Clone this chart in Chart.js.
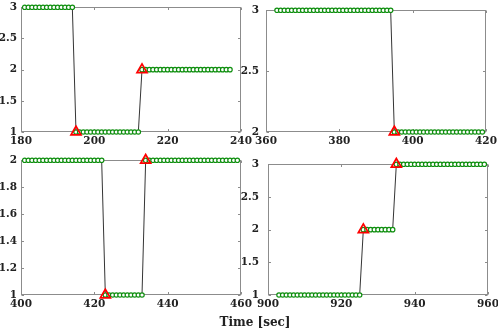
<!DOCTYPE html>
<html>
<head>
<meta charset="utf-8">
<title>Step changes</title>
<script src="https://cdn.jsdelivr.net/npm/chart.js"></script>
<style>
  body { margin: 0; width: 498px; height: 335px; background: #fff; position: relative; overflow: hidden; }
  canvas { position: absolute; }
  #xlabel { position: absolute; left: 255px; top: 316px; transform: translateX(-50%);
            font: bold 12px "DejaVu Serif"; line-height: 12px; color: #222; white-space: nowrap; }
</style>
</head>
<body>
<canvas id="c1"></canvas>
<canvas id="c2"></canvas>
<canvas id="c3"></canvas>
<canvas id="c4"></canvas>
<div id="xlabel">Time [sec]</div>

<script>
// panel 1 (180-240 s), one sample per second from start1
const start1 = 181;
const vals1 = [3,3,3,3,3,3,3,3,3,3,
               3,3,3,3,1,1,1,1,1,1,
               1,1,1,1,1,1,1,1,1,1,
               1,1,2,2,2,2,2,2,2,2,
               2,2,2,2,2,2,2,2,2,2,
               2,2,2,2,2,2,2];
const changeT1 = [195, 213];
const changeV1 = [1, 2];
const xTicks1 = [180, 200, 220, 240];
const yTicks1 = [1, 1.5, 2, 2.5, 3];

// panel 2 (360-420 s)
const start2 = 363;
const vals2 = [3,3,3,3,3,3,3,3,3,3,
               3,3,3,3,3,3,3,3,3,3,
               3,3,3,3,3,3,3,3,3,3,
               3,3,2,2,2,2,2,2,2,2,
               2,2,2,2,2,2,2,2,2,2,
               2,2,2,2,2,2,2];
const changeT2 = [395];
const changeV2 = [2];
const xTicks2 = [360, 380, 400, 420];
const yTicks2 = [2, 2.5, 3];

// panel 3 (400-460 s)
const start3 = 401;
const vals3 = [2,2,2,2,2,2,2,2,2,2,
               2,2,2,2,2,2,2,2,2,2,
               2,2,1,1,1,1,1,1,1,1,
               1,1,1,2,2,2,2,2,2,2,
               2,2,2,2,2,2,2,2,2,2,
               2,2,2,2,2,2,2,2,2];
const changeT3 = [423, 434];
const changeV3 = [1, 2];
const xTicks3 = [400, 420, 440, 460];
const yTicks3 = [1, 1.2, 1.4, 1.6, 1.8, 2];

// panel 4 (900-960 s)
const start4 = 903;
const vals4 = [1,1,1,1,1,1,1,1,1,1,
               1,1,1,1,1,1,1,1,1,1,
               1,1,1,2,2,2,2,2,2,2,
               2,2,3,3,3,3,3,3,3,3,
               3,3,3,3,3,3,3,3,3,3,
               3,3,3,3,3,3,3];
const changeT4 = [926, 935];
const changeV4 = [2, 3];
const xTicks4 = [900, 920, 940, 960];
const yTicks4 = [1, 1.5, 2, 2.5, 3];

const YW = 30, PT = 8, PR = 14, XH = 18;
const tickFont = { family: 'DejaVu Serif', weight: 'bold', size: 10.5 };

// axes box with small inward ticks on all four sides
const frame = {
  id: 'frame',
  beforeDatasetsDraw(chart) {
    const { ctx, chartArea: a, scales: { x, y } } = chart;
    const L = Math.round(a.left) + 0.5, R = Math.round(a.right) - 0.5;
    const T = Math.round(a.top) + 0.5, B = Math.round(a.bottom) - 0.5;
    ctx.save();
    ctx.strokeStyle = '#8c8c8c';
    ctx.lineWidth = 1;
    ctx.strokeRect(L, T, R - L, B - T);
    ctx.beginPath();
    x.ticks.forEach(t => {
      const px = Math.round(x.getPixelForValue(t.value)) + 0.5;
      ctx.moveTo(px, B); ctx.lineTo(px, B - 2.5);
      ctx.moveTo(px, T); ctx.lineTo(px, T + 2.5);
    });
    y.ticks.forEach(t => {
      const py = Math.round(y.getPixelForValue(t.value)) + 0.5;
      ctx.moveTo(L, py); ctx.lineTo(L + 2.5, py);
      ctx.moveTo(R, py); ctx.lineTo(R - 2.5, py);
    });
    ctx.stroke();
    ctx.restore();
  }
};

function makePanel(id, box, start, vals, cT, cV, xTicks, yTicks, yPad) {
  const cv = document.getElementById(id);
  cv.width = (box.right - box.left) + YW + PR;
  cv.height = (box.bottom - box.top) + PT + XH;
  cv.style.left = (box.left - YW) + 'px';
  cv.style.top = (box.top - PT) + 'px';

  const pts = vals.map((v, i) => ({ x: start + i, y: v }));
  const marks = cT.map((t, i) => ({ x: t, y: cV[i] }));

  new Chart(cv, {
    type: 'scatter',
    data: {
      datasets: [{
        data: marks,
        showLine: false,
        pointStyle: 'triangle',
        pointRadius: 5.8,
        pointBorderWidth: 1.7,
        pointBorderColor: '#ff0000',
        pointBackgroundColor: 'rgba(0,0,0,0)',
        clip: false
      }, {
        data: pts,
        showLine: true,
        borderColor: '#000',
        borderWidth: 0.8,
        pointRadius: 2.2,
        pointBorderWidth: 1.2,
        pointBorderColor: '#0f8f0f',
        pointBackgroundColor: '#fff',
        clip: false
      }]
    },
    options: {
      responsive: false,
      animation: false,
      events: [],
      layout: { padding: { left: 0, top: PT, right: PR, bottom: 0 } },
      plugins: { legend: { display: false }, tooltip: { enabled: false } },
      scales: {
        x: {
          type: 'linear',
          min: xTicks[0], max: xTicks[xTicks.length - 1],
          grid: { display: false, drawTicks: false },
          border: { display: false },
          afterBuildTicks: s => { s.ticks = xTicks.map(v => ({ value: v })); },
          afterFit: s => { s.height = XH; },
          ticks: { padding: 3, color: '#222', font: tickFont, maxRotation: 0, autoSkip: false,
                   callback: v => String(v) }
        },
        y: {
          min: yTicks[0], max: yTicks[yTicks.length - 1],
          grid: { display: false, drawTicks: false },
          border: { display: false },
          afterBuildTicks: s => { s.ticks = yTicks.map(v => ({ value: v })); },
          afterFit: s => { s.width = YW; },
          ticks: { padding: yPad, color: '#222', font: tickFont, autoSkip: false,
                   callback: v => String(v) }
        }
      }
    },
    plugins: [frame]
  });
}

makePanel('c1', { left: 21, top: 5, right: 241, bottom: 132 }, start1, vals1, changeT1, changeV1, xTicks1, yTicks1, 4);
makePanel('c2', { left: 266, top: 5, right: 486, bottom: 132 }, start2, vals2, changeT2, changeV2, xTicks2, yTicks2, 7);
makePanel('c3', { left: 21, top: 158, right: 241, bottom: 295 }, start3, vals3, changeT3, changeV3, xTicks3, yTicks3, 4);
makePanel('c4', { left: 268, top: 157, right: 488, bottom: 295 }, start4, vals4, changeT4, changeV4, xTicks4, yTicks4, 9);
</script>
</body>
</html>
